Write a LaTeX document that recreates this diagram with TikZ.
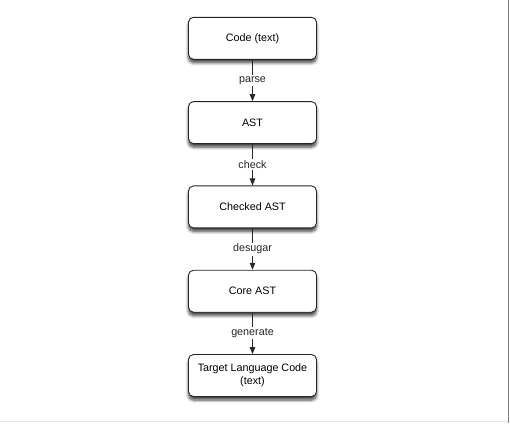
\documentclass[tikz,border=0pt]{standalone}
\usepackage{fontspec}
\setmainfont{Liberation Sans}
\usepackage{tikz}
\usetikzlibrary{arrows.meta,shadows.blur}
\tikzset{
  stage/.style={rectangle, rounded corners=5bp, draw=black!85, line width=0.9bp,
    fill=white, minimum width=128bp, minimum height=42bp, align=center,
    font=\fontsize{10.8}{12.7}\selectfont,
    blur shadow={shadow xshift=0bp, shadow yshift=-3.5bp, shadow blur radius=3bp,
      shadow blur steps=6, shadow opacity=75}},
  pass/.style={fill=white, inner sep=1.5bp, text=black!85, font=\fontsize{10.8}{12.7}\selectfont},
  >={Triangle[length=7bp,width=5.5bp]}
}
\begin{document}
\begin{tikzpicture}[x=1bp, y=-1bp]
  \useasboundingbox (0,0) rectangle (510,423);
  \node[stage] (code) at (252.5,38.3)  {Code (text)};
  \node[stage] (ast)  at (252.5,122.6) {AST};
  \node[stage] (chk)  at (252.5,206.9) {Checked AST};
  \node[stage] (core) at (252.5,291.2) {Core AST};
  \node[stage] (tgt)  at (252.5,375.5) {Target Language Code\\(text)};
  % passes
  \draw[->, draw=black!85, line width=0.8bp] (code) -- node[pass] {parse} (ast);
  \draw[->, draw=black!85, line width=0.8bp] (ast) -- node[pass] {check} (chk);
  \draw[->, draw=black!85, line width=0.8bp] (chk) -- node[pass] {desugar} (core);
  \draw[->, draw=black!85, line width=0.8bp] (core) -- node[pass] {generate} (tgt);
  % page edges
  \draw[black!50, line width=1.5bp] (508.7,0) -- (508.7,423);
  \draw[black!10, line width=1bp] (0,421.8) -- (508,421.8);
\end{tikzpicture}
\end{document}
